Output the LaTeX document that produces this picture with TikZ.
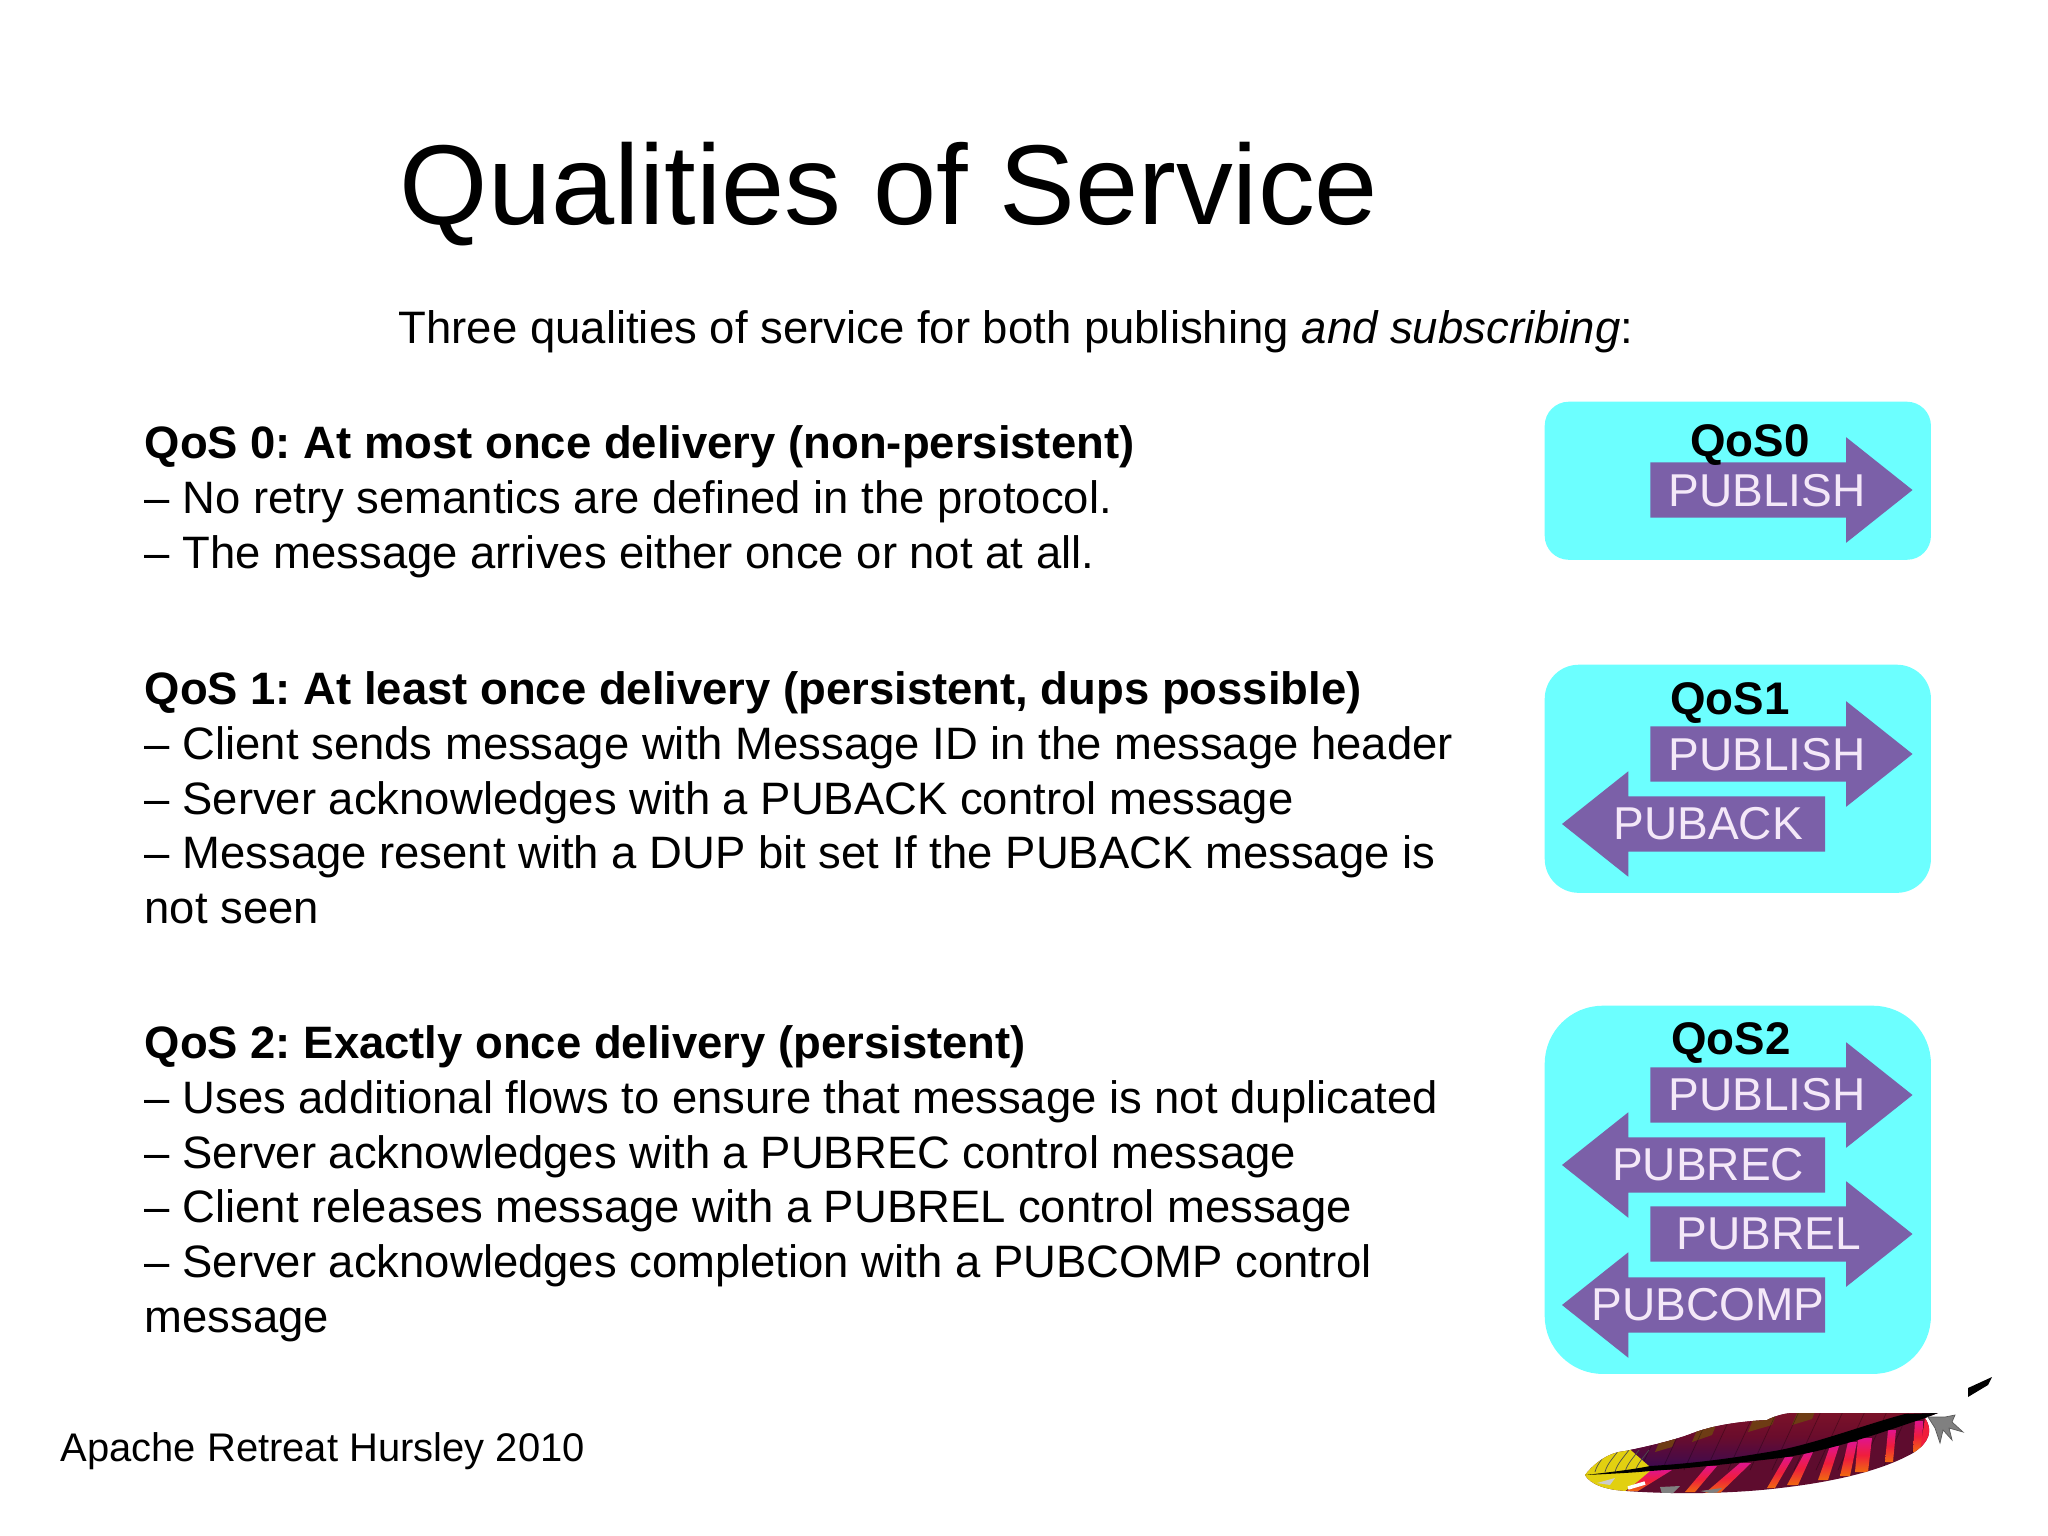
\documentclass[tikz,border=0pt]{standalone}
\usepackage{fontspec}
\setmainfont{Liberation Sans}
\usetikzlibrary{shapes.arrows}
\definecolor{qoscyan}{HTML}{6CFFFF}
\definecolor{msgpurple}{HTML}{7B60A8}
\definecolor{msgtext}{HTML}{F4E8F8}
\definecolor{vanetop}{HTML}{801428}
\definecolor{vanemid}{HTML}{6A0C2C}
\definecolor{vanelow}{HTML}{3C0A50}
\definecolor{vanedark}{HTML}{5E0C2E}
\definecolor{vaneolive}{HTML}{6E3C14}
\definecolor{quillyellow}{HTML}{E2D010}
\definecolor{stripepink}{HTML}{E0148C}
\definecolor{stripered}{HTML}{F01E3C}
\definecolor{stripeorange}{HTML}{F06A10}
\tikzstyle{qosbox}=[rectangle, fill=qoscyan, minimum width=3.86cm, inner sep=0pt, anchor=north west]
\tikzstyle{rightmsg}=[single arrow, fill=msgpurple, minimum height=2.62cm, minimum width=1.04cm, inner xsep=0pt, inner ysep=0pt, text height=0.54cm, single arrow head extend=0.25cm, single arrow head indent=0cm, single arrow tip angle=77]
\tikzstyle{leftmsg}=[rightmsg, shape border rotate=180, minimum height=2.63cm]
\tikzstyle{msg}=[text=msgtext, font=\fontsize{13.1}{15}\selectfont, inner sep=0pt]
\tikzstyle{qoslabel}=[font=\fontsize{13}{15}\selectfont\bfseries, inner sep=0pt]
\tikzstyle{body}=[anchor=north west, align=left, inner sep=0pt, font=\fontsize{12.92}{15.56}\selectfont]
\newcommand{\featherpath}{(1585,1475) .. controls (1595,1462) and (1610,1452) .. (1625,1451) .. controls (1650,1446) and (1675,1440) .. (1693,1433) .. controls (1720,1423) and (1750,1421) .. (1767,1420) .. controls (1775,1416) and (1785,1413) .. (1793,1413) -- (1938,1413) -- (1925,1418) .. controls (1933,1430) and (1930,1442) .. (1913,1453) .. controls (1890,1466) and (1850,1480) .. (1780,1488) .. controls (1740,1493) and (1680,1495) .. (1627,1491) .. controls (1605,1490) and (1590,1484) .. (1585,1475) -- cycle}
\begin{document}
\begin{tikzpicture}[x=0.01cm,y=-0.01cm]
  \frenchspacing
  \useasboundingbox (0,0) rectangle (2048,1536);
  \node[inner sep=0pt, anchor=base west, font=\fontsize{32.3}{36}\selectfont] (title) at (399,224) {Qualities of Service};
  \node[inner sep=0pt, anchor=base west, font=\fontsize{12.94}{16}\selectfont] (intro) at (398,343) {Three qualities of service for both publishing \textit{and subscribing}:};

  \node[body] (qos0) at (144,425) {\textbf{QoS 0: At most once delivery (non-persistent)}\\
    -- No retry semantics are defined in the protocol.\\
    -- The message arrives either once or not at all.};
  \node[body] (qos1) at (144,671) {\textbf{QoS 1: At least once delivery (persistent, dups possible)}\\
    -- Client sends message with Message ID in the message header\\
    -- Server acknowledges with a PUBACK control message\\
    -- Message resent with a DUP bit set If the PUBACK message is\\
    not seen};
  \node[body] (qos2) at (144,1025) {\textbf{QoS 2: Exactly once delivery (persistent)}\\
    -- Uses additional flows to ensure that message is not duplicated\\
    -- Server acknowledges with a PUBREC control message\\
    -- Client releases message with a PUBREL control message\\
    -- Server acknowledges completion with a PUBCOMP control\\
    message};
  \node[inner sep=0pt, anchor=base west, font=\fontsize{11.36}{14}\selectfont] (footer) at (60,1461) {Apache Retreat Hursley 2010};

  % QoS 0
  \node[qosbox, minimum height=1.58cm, rounded corners=0.24cm] (box0) at (1544,401) {};
  \node[rightmsg] (pub0) at (1764,490) {};
  \node[msg] (pub0text) at (1767,491) {PUBLISH};
  \node[qoslabel] (label0) at (1750,445) {QoS0};

  % QoS 1
  \node[qosbox, minimum height=2.28cm, rounded corners=0.34cm] (box1) at (1544,664) {};
  \node[rightmsg] (pub1) at (1764,754) {};
  \node[leftmsg] (ack1) at (1711,824) {};
  \node[msg] (pub1text) at (1767,755) {PUBLISH};
  \node[msg] (ack1text) at (1708,824) {PUBACK};
  \node[qoslabel] (label1) at (1730,703) {QoS1};

  % QoS 2
  \node[qosbox, minimum height=3.68cm, rounded corners=0.58cm] (box2) at (1544,1005) {};
  \node[rightmsg] (pub2) at (1764,1095) {};
  \node[leftmsg] (rec2) at (1711,1165) {};
  \node[rightmsg] (rel2) at (1764,1234) {};
  \node[leftmsg] (comp2) at (1711,1305) {};
  \node[msg] (pub2text) at (1767,1095) {PUBLISH};
  \node[msg] (rec2text) at (1708,1165) {PUBREC};
  \node[msg] (rel2text) at (1769,1234) {PUBREL};
  \node[msg] (comp2text) at (1708,1305) {PUBCOMP};
  \node[qoslabel] (label2) at (1731,1043) {QoS2};

  % feather
  \begin{scope}
    \clip \featherpath;
    \fill[vanedark] (1580,1405) rectangle (1945,1500);
    \shade[top color=vanetop, bottom color=vanelow, middle color=vanemid] (1620,1440) .. controls (1680,1420) and (1750,1405) .. (1800,1405) -- (1940,1405) -- (1915,1416) .. controls (1860,1440) and (1780,1455) .. (1650,1468) -- cycle;
    \foreach \xa/\ya/\xb/\yb in {1692/1442/1712/1435,1748/1432/1772/1425,1792/1425/1812/1419,1655/1452/1672/1447}
      \fill[vaneolive] (\xa,\ya) -- (\xb,\yb) -- (\xb+5,\yb-12) -- (\xa+5,\ya-12) -- cycle;
    \foreach \bx in {1640,1662,...,1920}
      \draw[black, opacity=0.3, very thin] (\bx,1470) -- (\bx+30,1405);
    % stripes of the lower vane
    \foreach \tl/\tr/\ty/\bl/\br/\by in {1650/1672/1470/1627/1638/1491,1707/1717/1466/1685/1695/1492,1740/1751/1463/1705/1720/1493,1785/1793/1457/1767/1775/1488,1805/1813/1452/1787/1798/1485,1830/1839/1446/1818/1828/1480,1848/1857/1442/1840/1850/1476,1858/1872/1438/1855/1868/1472,1888/1896/1430/1885/1893/1462,1915/1923/1421/1913/1922/1452}
      \shade[top color=stripepink, bottom color=stripeorange, middle color=stripered] (\tl,\ty) -- (\tr,\ty) -- (\br,\by) -- (\bl,\by) -- cycle;
    \fill[stripered] (1925,1418) -- (1935,1418) -- (1935,1445) -- (1920,1451) -- cycle;
    \fill[gray] (1660,1487) -- (1680,1486) -- (1672,1494) -- (1662,1494) -- cycle;
    \fill[gray] (1700,1491) -- (1722,1488) -- (1715,1494) -- cycle;
    % yellow tip
    \fill[quillyellow] (1580,1440) -- (1625,1445) -- (1650,1467) -- (1650,1471) -- (1637,1482) -- (1620,1495) -- (1580,1495) -- cycle;
    \foreach \vx in {1595,1605,1615,1625,1635}
      \draw[black!70, very thin] (\vx,1472) .. controls (\vx+2,1464) and (\vx+8,1458) .. (\vx+14,1450);
    \fill[gray!40] (1597,1483) -- (1615,1478) -- (1610,1485) -- cycle;
    \draw[white, line width=1pt] (1628,1488) -- (1645,1483);
  \end{scope}
  \fill[black] (1586,1475) .. controls (1610,1472) and (1630,1470) .. (1650,1466) .. controls (1700,1463) and (1740,1457) .. (1780,1450) .. controls (1820,1442) and (1870,1423) .. (1905,1414) -- (1938,1413) -- (1925,1418) .. controls (1880,1433) and (1830,1451) .. (1780,1458) .. controls (1720,1465) and (1680,1469) .. (1650,1471) .. controls (1630,1473) and (1605,1474) .. (1586,1475) -- cycle;
  \filldraw[fill=gray, draw=gray!70!black, very thin] (1928,1417) -- (1935,1428) -- (1940,1443) -- (1943,1430) -- (1952,1440) -- (1949,1428) -- (1963,1432) -- (1952,1422) -- (1955,1415) -- (1945,1417) -- cycle;
  \fill[black] (1968,1388) -- (1992,1377) -- (1988,1385) -- (1968,1397) -- cycle;
\end{tikzpicture}
\end{document}
